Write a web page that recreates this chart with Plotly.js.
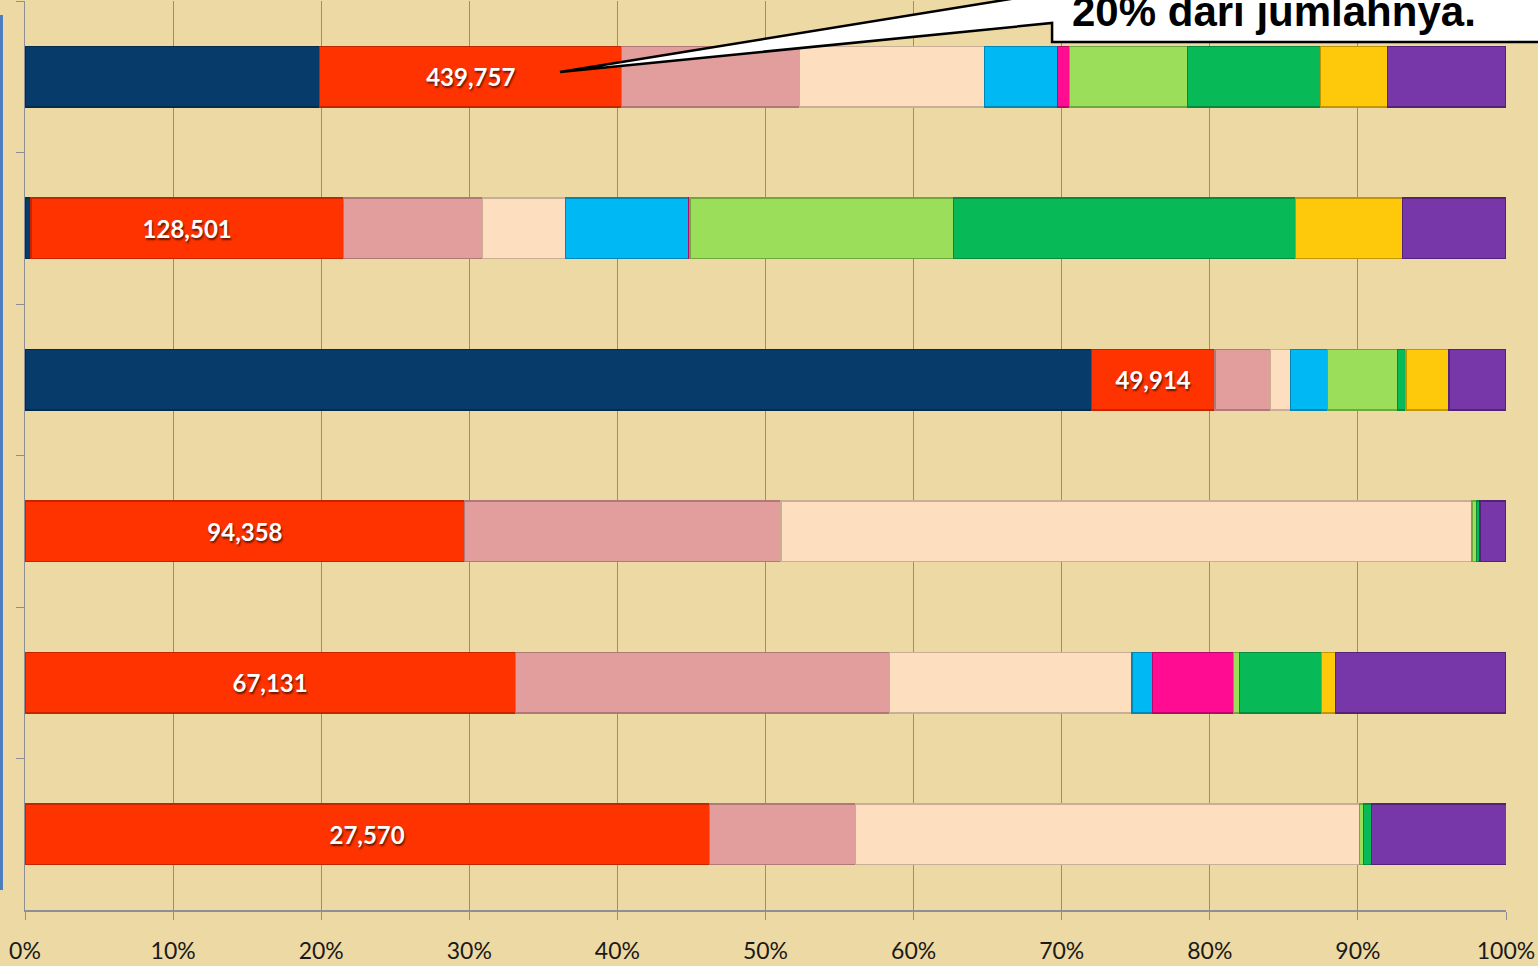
<!DOCTYPE html>
<html>
<head>
<meta charset="utf-8">
<script src="https://cdn.plot.ly/plotly-3.0.1.min.js"></script>
<style>
html,body{margin:0;padding:0;background:#EDD9A3;overflow:hidden;}
#chart{width:1538px;height:966px;}
</style>
</head>
<body>
<div id="chart"></div>
<script>
// Categories (rows, top to bottom)
const categories = ["A", "B", "C", "D", "E", "F"];

// Share (%) of each segment per row
const seriesNames = ["S1", "S2", "S3", "S4", "S5", "S6", "S7", "S8", "S9", "S10"];
const s1  = [19.9,  0.4, 72.0,  0.0,  0.0,  0.0];   // navy
const s2  = [20.4, 21.1,  8.35, 29.7, 33.1, 46.2];  // red (labelled)
const s3  = [12.0,  9.4,  3.75, 21.35, 25.25, 9.9]; // rose
const s4  = [12.5,  5.6,  1.35, 46.65, 16.4, 34.0]; // peach
const s5  = [ 4.9,  8.3,  2.5,  0.0,  1.4,  0.0];   // cyan
const s6  = [ 0.8,  0.1,  0.0,  0.0,  5.45, 0.0];   // magenta
const s7  = [ 8.0, 17.8,  4.75, 0.3,  0.4,  0.27];  // light green
const s8  = [ 9.0, 23.1,  0.55, 0.25, 5.55, 0.54];  // green
const s9  = [ 4.5,  7.2,  2.9,  0.0,  0.95, 0.0];   // gold
const s10 = [ 8.0,  7.0,  3.85, 1.75, 11.5, 9.1];   // purple
const seriesValues = [s1, s2, s3, s4, s5, s6, s7, s8, s9, s10];

// Data labels shown on the red series
const redLabels = ["439,757", "128,501", "49,914", "94,358", "67,131", "27,570"];

// Tick labels
const tickVals = [0, 10, 20, 30, 40, 50, 60, 70, 80, 90, 100];
const tickText = ["0%", "10%", "20%", "30%", "40%", "50%", "60%", "70%", "80%", "90%", "100%"];

const calloutText = "20% dari jumlahnya.";

// Styles
const fills = ["#063B6A", "#FF3300", "#E29D9D", "#FDDFC0", "#00B9F4", "#FF0C93", "#9BDE5A", "#07BA57", "#FFC90B", "#7837A8"];
const edges = ["#042A4C", "#C42600", "#B07878", "#C8AE94", "#0088B4", "#B8066A", "#6FA83C", "#058A40", "#C29600", "#55227A"];

const traces = seriesValues.map((vals, i) => {
  const t = {
    type: "bar",
    orientation: "h",
    name: seriesNames[i],
    y: categories,
    x: vals,
    marker: { color: fills[i], line: { color: edges[i], width: 1.2 } },
    hoverinfo: "skip",
    showlegend: false
  };
  if (i === 1) {
    t.text = redLabels;
    t.textposition = "inside";
    t.insidetextanchor = "middle";
    t.textangle = 0;
    t.constraintext = "none";
    t.textfont = { family: "Lato, 'Open Sans', sans-serif", size: 24, color: "#FFFFFF", weight: 700, shadow: "1px 2px 2px rgba(0,0,0,0.6)" };
  }
  return t;
});

// helpers: pixel -> paper coordinates for the callout decoration
const L = 25, R = 1506, T = 1, B = 910;
const px = x => ((x - L) / (R - L)).toFixed(4);
const py = y => ((B - y) / (B - T)).toFixed(4);
const calloutPath = [
  "M", px(560), py(72),
  "L", px(1052), py(-7.7),
  "L", px(1052), py(-80),
  "L", px(1620), py(-80),
  "L", px(1620), py(42),
  "L", px(1052), py(42),
  "L", px(1052), py(23),
  "Z"
].join(" ");

const layout = {
  width: 1538,
  height: 966,
  margin: { l: L, r: 1538 - R, t: T, b: 966 - B },
  paper_bgcolor: "#EDD9A3",
  plot_bgcolor: "rgba(0,0,0,0)",
  barmode: "stack",
  bargap: 0.6,
  xaxis: {
    range: [0, 100],
    tickvals: tickVals,
    ticktext: tickText,
    showgrid: true,
    gridcolor: "#8E8E96",
    gridwidth: 1,
    zeroline: false,
    showline: true,
    linecolor: "#8E8E96",
    linewidth: 1.5,
    ticks: "outside",
    ticklen: 8,
    tickcolor: "#8E8E96",
    ticklabelstandoff: 12,
    tickfont: { family: "Lato, 'Open Sans', sans-serif", size: 23, color: "#1A1A1A" },
    fixedrange: true
  },
  yaxis: {
    type: "category",
    autorange: "reversed",
    showticklabels: false,
    showgrid: false,
    zeroline: false,
    showline: true,
    linecolor: "#8E8E96",
    linewidth: 1.5,
    ticks: "outside",
    tickson: "boundaries",
    ticklen: 8,
    tickcolor: "#8E8E96",
    fixedrange: true
  },
  shapes: [
    { type: "line", xref: "paper", yref: "paper", x0: px(1.5), x1: px(1.5), y0: py(15), y1: py(890),
      line: { color: "#4A7DC0", width: 3 } },
    { type: "path", xref: "paper", yref: "paper", path: calloutPath,
      fillcolor: "#FFFFFF", line: { color: "#000000", width: 2.5 }, layer: "above" }
  ],
  annotations: [
    { xref: "paper", yref: "paper", x: px(1070), y: py(37), xanchor: "left", yanchor: "bottom",
      text: calloutText, showarrow: false,
      font: { family: "'Liberation Sans Narrow', 'Liberation Sans', Arial, sans-serif", size: 42, color: "#000000", weight: 700 } }
  ]
};

Plotly.newPlot("chart", traces, layout, { displayModeBar: false, staticPlot: true });
</script>
</body>
</html>
